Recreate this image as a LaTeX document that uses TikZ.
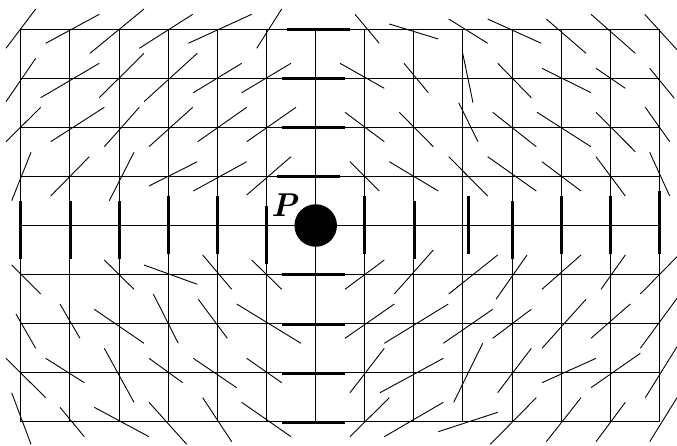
\documentclass[tikz,border=0pt]{standalone}
\begin{document}
\begin{tikzpicture}[x=1pt,y=-1pt,
  gridline/.style={black,line width=0.8pt},
  seg/.style={black,line width=0.9pt},
  boldseg/.style={black,line width=3pt},
  pdotstyle/.style={circle,fill=black,inner sep=0pt,minimum size=42.5pt},
  plabel/.style={inner sep=0pt,font=\fontsize{33}{33}\selectfont\bfseries\itshape}]
\useasboundingbox (0,0) rectangle (677,445);
\clip (0,0) rectangle (677,445);
% grid
\foreach \i in {0,...,13} \draw[gridline] ({20.7+49.12*\i},29) -- ({20.7+49.12*\i},421.8);
\foreach \j in {0,...,8} \draw[gridline] (20.7,{29+49.1*\j}) -- (659.3,{29+49.1*\j});
% thin direction segments
\foreach \a/\b/\c/\d in {
 6/48.3/35.7/9, 45.7/43.3/99.3/14.3, 90/53.3/144/9, 139.3/48.3/192.7/14.3, 188.3/43.3/251.7/14.3,
 256.7/48.3/281.7/9, 355/14.3/379.3/43.3, 389.3/24/438.3/39, 448.7/19/487.7/43.3, 487.7/19/541.3/43.3,
 546.3/19/586/53.3, 591/14.3/635.3/53.3, 644.7/14.3/680/53,
 6/101.7/35.7/58.3, 40.7/97.7/99.3/63.3, 99.3/97.7/144/53.3, 144/101.7/197.3/53.3, 193.3/92.7/241.7/63.3,
 241.7/92.7/291/63.3, 340/63.3/384.3/88.3, 404/63.3/428.3/92.7, 462.7/53.3/473/102.7, 497.7/63.3/531.3/97.7,
 542/68.3/591/92.7, 596/68.3/625.3/88.3, 649.7/68.3/674.3/98.3,
 6/141.7/40.7/107.3, 50.7/141.7/104.3/107.3, 104.3/146.7/139.3/107.3, 149/146.7/192.7/107.3, 197.7/141.7/246.7/107.3,
 246.7/141.7/296/107.3, 345/112.3/384.3/141.7, 399.3/112.3/433.3/146.7, 458.7/102.7/478/141.7, 492.7/112.3/536.3/146.7,
 537/112.3/591/146.7, 596/112.3/635.3/151.7, 645.3/107.3/669.7/141.7,
 11.7/200.7/31/152.3, 50.7/196/89.3/156.7, 109.3/200.7/134/152.3, 149/186/197.3/161.7, 193.3/191/246.7/161.7,
 246.7/195/291/156.7, 350/161.7/379.3/191, 389.3/161.7/438.3/191, 448.7/156.7/487.7/196, 487.7/156.7/536.3/191,
 542/161.7/581/191, 596/156.7/625.3/196, 649.7/152.3/669.7/196,
 11.7/265/40.7/294, 104.3/260/134/289.3, 144/265/197.3/284.3, 202.7/255/231.7/289.3,
 251.7/260/281.7/289.3, 345/289.3/384.3/260, 394.3/294/433.3/250, 448.7/294/497.7/255, 496/299.3/527/255,
 542/289.3/581/255, 601/289.3/625.3/255, 640.3/294/680/253.7,
 16/314/35.7/348.3, 60/304/80/338.3, 94.3/309.3/144/343.3, 153.3/294/178.3/343.3, 198.3/299.3/227.3/338.3,
 236.7/304/301/343.3, 345/338.3/394.3/304, 384.3/343.3/448.3/304, 443.3/343.3/492.7/309.3, 492.7/338.3/531.3/309.3,
 542/348.3/586/299.3, 591/338.3/630.3/304, 640.3/348.3/677/298.3,
 6/358.3/45.7/397.7, 45.7/358.3/84.3/382.7, 104.3/348.3/134/402.3, 149/358.3/182.7/382.7, 193.3/358.3/236.7/387.7,
 246.7/358.3/281.7/382.7, 350/392.7/384.3/348.3, 380/392.7/443.3/358.3, 453.7/402.3/482.7/343.3, 497.7/392.7/531.3/348.3,
 542/382.7/596/358.3, 591/387.7/640.3/353.3, 645.3/397.7/677/346.7,
 11.7/392.7/31/444.3, 60/407.3/84.3/436.7, 94.3/407.3/149/436.7, 149/402.3/186.7/444.3, 202.7/397.7/231.7/441.7,
 241.7/402.3/291/436.7, 350/436.7/389.3/397.7, 384.3/436.7/443.3/402.3, 438.3/431.7/497.7/412.3, 490.3/444.3/536.3/397.7,
 546.3/441.7/581/397.7, 596/441.7/625.3/402.3, 649.7/441.7/677/397.7}
 \draw[seg] (\a,\b) -- (\c,\d);
% bold vertical segments on the horizontal axis through P
\foreach \x/\ya/\yb in {20.7/201/259.3, 70/201/259.3, 119/201/259.3, 168.3/196/254.3, 217.7/196/254.3,
 266.7/206/264.3, 364.3/196/254.3, 414/201/259.3, 468/196/254.3, 512/201/259.3, 561.3/196/254.3,
 610.3/196/254.3, 659.3/191/254.3}
 \draw[boldseg] (\x,\ya) -- (\x,\yb);
% bold horizontal segments on the vertical axis through P
\foreach \xa/\xb/\y in {286.7/350/29, 281.7/345/78.3, 281.7/345/127.3, 276.7/340/176,
 281.7/345/274.3, 281.7/345/324, 281.7/345/373.3, 281.7/345/422.3}
 \draw[boldseg] (\xa,\y) -- (\xb,\y);
% point P
\node[pdotstyle] (pdot) at (315.7,225.5) {};
\node[plabel] (lblP) at (284,205) {P};
\end{tikzpicture}
\end{document}
